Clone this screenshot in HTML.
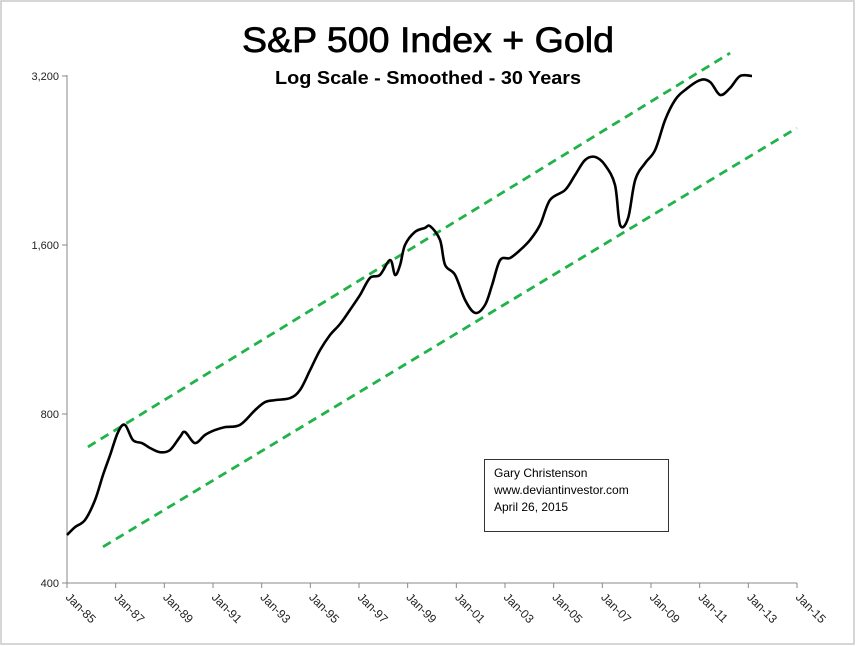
<!DOCTYPE html>
<html><head><meta charset="utf-8"><style>
html,body{margin:0;padding:0;background:#fff;}
svg{display:block;font-family:"Liberation Sans",sans-serif;}
</style></head><body>
<svg id="chart" width="856" height="646" viewBox="0 0 856 646">
<rect x="1" y="1" width="853" height="643" fill="#fff" stroke="#c8c8c8" stroke-width="1.5"/>
<text x="428" y="52" text-anchor="middle" font-size="35" stroke="#000" stroke-width="0.7" textLength="372" lengthAdjust="spacingAndGlyphs">S&amp;P 500 Index + Gold</text>
<text x="428" y="84" text-anchor="middle" font-size="18" font-weight="bold" textLength="306" lengthAdjust="spacingAndGlyphs">Log Scale - Smoothed - 30 Years</text>
<g id="axes"></g>
<g id="trends"></g>
<path id="series" fill="none" stroke="#000" stroke-width="2.6" stroke-linejoin="round"/>
<g>
<rect x="484.5" y="459.5" width="184" height="72" fill="#fff" stroke="#333" stroke-width="1"/>
<text x="494" y="477" font-size="12">Gary Christenson</text>
<text x="494" y="494" font-size="12">www.deviantinvestor.com</text>
<text x="494" y="511" font-size="12">April 26, 2015</text>
</g>
</svg>
<script>
const dates = [1985.0,1985.33,1985.74,1986.15,1986.48,1986.77,1987.10,1987.38,1987.71,1988.08,1988.41,1988.82,1989.23,1989.64,1989.85,1990.26,1990.67,1991.08,1991.49,1992.11,1992.73,1993.14,1993.55,1994.17,1994.58,1994.99,1995.40,1995.81,1996.22,1996.63,1997.04,1997.45,1997.86,1998.28,1998.48,1998.69,1998.89,1999.30,1999.71,1999.92,2000.33,2000.54,2000.95,2001.36,2001.77,2002.18,2002.47,2002.80,2003.21,2003.62,2004.03,2004.44,2004.85,2005.47,2005.88,2006.29,2006.70,2007.11,2007.52,2007.73,2008.06,2008.35,2008.76,2009.17,2009.58,2009.99,2010.40,2011.02,2011.43,2011.84,2012.25,2012.66,2013.15];
const values = [487,503,518,562,623,676,743,765,719,710,696,684,690,728,743,710,734,749,758,765,813,840,847,854,883,958,1040,1106,1157,1226,1303,1398,1415,1504,1415,1474,1600,1688,1716,1729,1634,1474,1415,1277,1211,1251,1358,1504,1517,1567,1634,1737,1924,2005,2132,2267,2296,2221,2046,1737,1787,2089,2240,2362,2672,2900,3022,3147,3122,2960,3046,3200,3200];
const upperTrendDates = [1985.86, 2012.25];
const upperTrendValues = [699, 3516];
const lowerTrendDates = [1986.48, 2014.99];
const lowerTrendValues = [464, 2585];
const yTicks = [400, 800, 1600, 3200];
const yTickLabels = ["400", "800", "1,600", "3,200"];
const xTickYears = [1985,1987,1989,1991,1993,1995,1997,1999,2001,2003,2005,2007,2009,2011,2013,2015];
const xTickLabels = ["Jan-85","Jan-87","Jan-89","Jan-91","Jan-93","Jan-95","Jan-97","Jan-99","Jan-01","Jan-03","Jan-05","Jan-07","Jan-09","Jan-11","Jan-13","Jan-15"];

const X0 = 67, X1 = 797, Y0 = 583, Y1 = 76;
const xs = t => X0 + (t - 1985) / 30 * (X1 - X0);
const ys = v => Y0 - Math.log2(v / 400) / 3 * (Y0 - Y1);
const NS = "http://www.w3.org/2000/svg";
function mk(tag, attrs, parent) { const e = document.createElementNS(NS, tag); for (const k in attrs) e.setAttribute(k, attrs[k]); parent.appendChild(e); return e; }

const axes = document.getElementById('axes');
const ya = mk('line', {x1: X0, y1: Y1 - 1, x2: X0, y2: Y0, stroke: '#888', 'stroke-width': 1}, axes);


const xa = mk('line', {x1: X0, y1: Y0, x2: X1, y2: Y0, stroke: '#888', 'stroke-width': 1}, axes);


yTicks.forEach((v, i) => {
  const y = ys(v);
  const tk = mk('line', {x1: X0 - 5, y1: y, x2: X0, y2: y, stroke: '#888'}, axes);
  
  
  const t = mk('text', {x: X0 - 8, y: y + 4, 'text-anchor': 'end', 'font-size': 11, fill: '#222'}, axes);
  t.textContent = yTickLabels[i];
  
  
});
xTickYears.forEach((yr, i) => {
  const x = xs(yr);
  const tk = mk('line', {x1: x, y1: Y0, x2: x, y2: Y0 + 5, stroke: '#888'}, axes);
  
  
  const t = mk('text', {x: x - 2, y: Y0 + 15, 'font-size': 12, fill: '#222', transform: `rotate(45 ${x - 2} ${Y0 + 15})`}, axes);
  t.textContent = xTickLabels[i];
  
  
});

const tg = document.getElementById('trends');
const up = mk('line', {x1: xs(upperTrendDates[0]), y1: ys(upperTrendValues[0]), x2: xs(upperTrendDates[1]), y2: ys(upperTrendValues[1]), stroke: '#1fb34a', 'stroke-width': 2.8, 'stroke-dasharray': '9 6'}, tg);


const lo = mk('line', {x1: xs(lowerTrendDates[0]), y1: ys(lowerTrendValues[0]), x2: xs(lowerTrendDates[1]), y2: ys(lowerTrendValues[1]), stroke: '#1fb34a', 'stroke-width': 2.8, 'stroke-dasharray': '9 6'}, tg);



const pts = dates.map((t, i) => [xs(t), ys(values[i])]);
let d = 'M' + pts[0][0].toFixed(1) + ',' + pts[0][1].toFixed(1);
for (let i = 0; i < pts.length - 1; i++) {
  const p0 = pts[Math.max(0, i - 1)], p1 = pts[i], p2 = pts[i + 1], p3 = pts[Math.min(pts.length - 1, i + 2)];
  const c1x = p1[0] + (p2[0] - p0[0]) / 6, c1y = p1[1] + (p2[1] - p0[1]) / 6;
  const c2x = p2[0] - (p3[0] - p1[0]) / 6, c2y = p2[1] - (p3[1] - p1[1]) / 6;
  d += 'C' + c1x.toFixed(1) + ',' + c1y.toFixed(1) + ' ' + c2x.toFixed(1) + ',' + c2y.toFixed(1) + ' ' + p2[0].toFixed(1) + ',' + p2[1].toFixed(1);
}
document.getElementById('series').setAttribute('d', d);
</script>
</body></html>
